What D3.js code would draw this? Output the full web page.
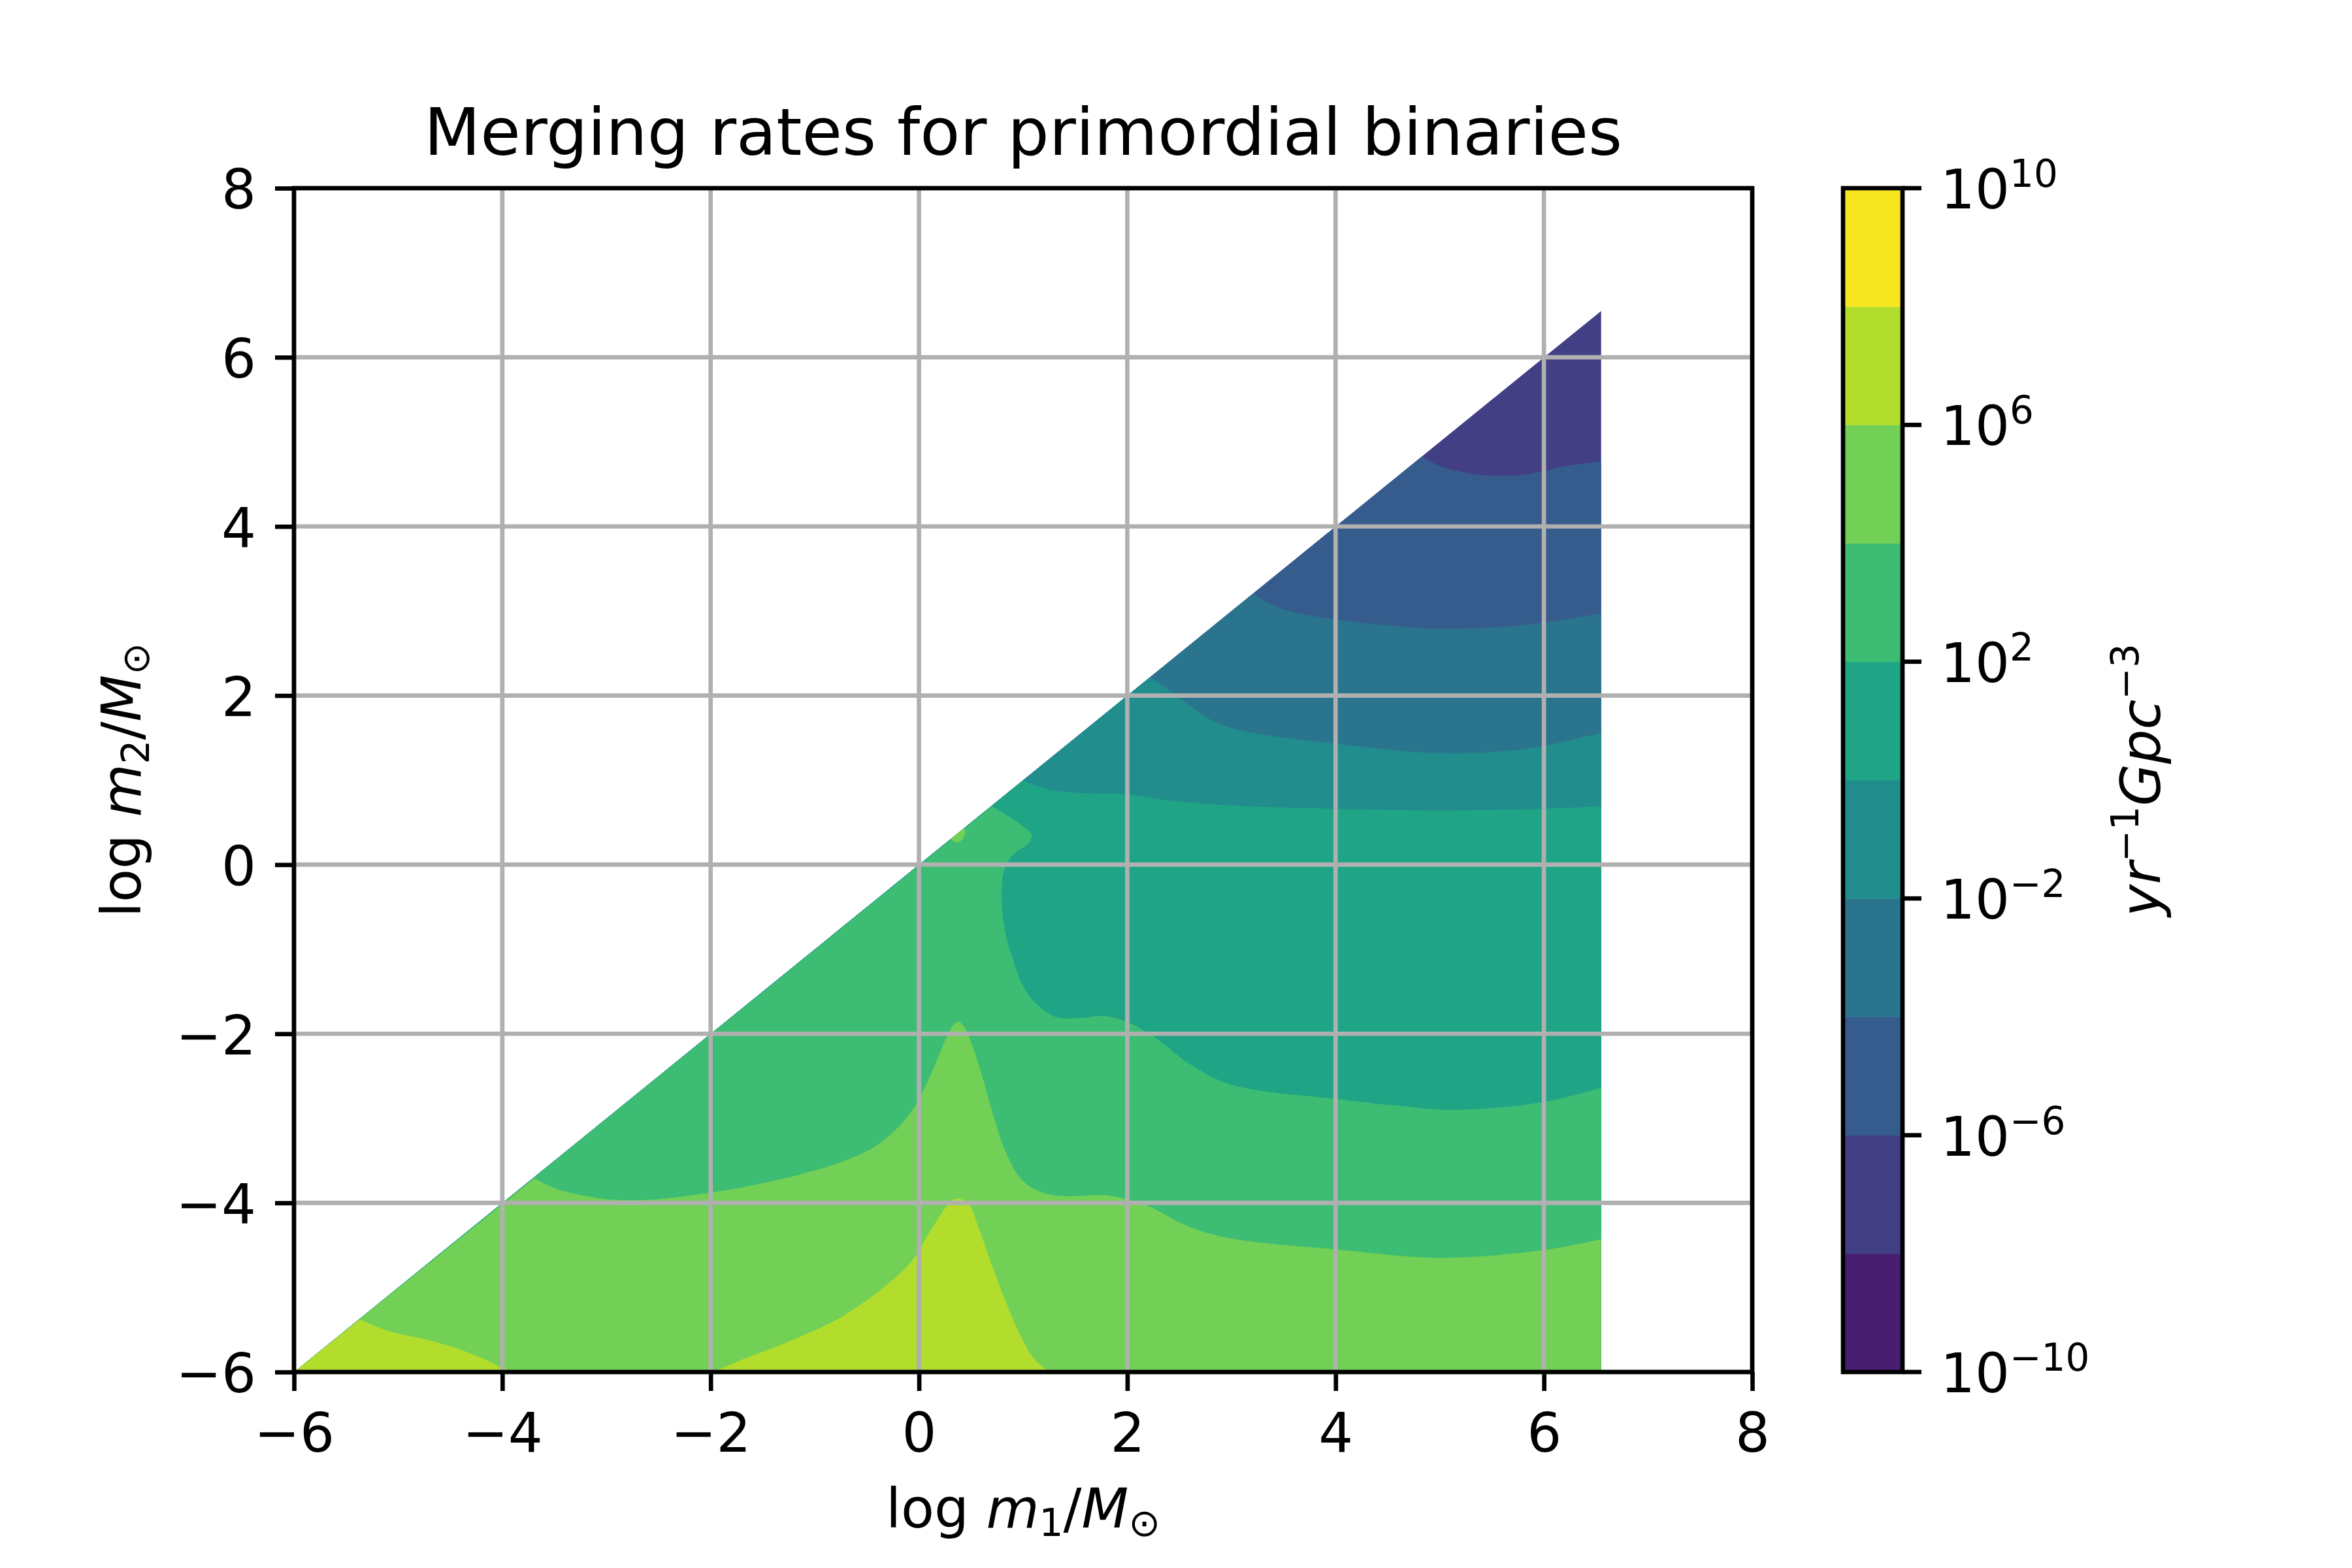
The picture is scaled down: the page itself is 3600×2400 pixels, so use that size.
<!DOCTYPE html>
<html>
<head>
<meta charset="utf-8">
<script src="https://cdn.jsdelivr.net/npm/d3@7"></script>
<style>
  body { margin: 0; background: #ffffff; }
  svg text { font-family: "DejaVu Sans", sans-serif; fill: #000; }
</style>
</head>
<body>
<div id="chart"></div>
<script>
// contour levels, log10 of rate in yr^-1 Gpc^-3
const levelExps = [-10, -8, -6, -4, -2, 0, 2, 4, 6, 8, 10];
const cbarTicks = [-10, -6, -2, 2, 6, 10];
const axisTicks = [-6, -4, -2, 0, 2, 4, 6, 8];

// edges of the mass grid (log m / Msun)
const massLo = -6;
const massHi = 6.55;

// iso-rate lines, [log m1, log m2]
const iso_m6 = [[4.83, 4.83], [4.99, 4.72], [5.19, 4.65], [5.39, 4.61], [5.59, 4.60],
  [5.79, 4.61], [5.99, 4.65], [6.19, 4.71], [6.55, 4.77]];
const iso_m4 = [[3.21, 3.21], [3.39, 3.07], [3.59, 2.99], [3.79, 2.94], [4.0, 2.90],
  [4.59, 2.82], [4.99, 2.79], [5.59, 2.81], [5.99, 2.86], [6.55, 2.97]];
const iso_m2 = [[2.22, 2.22], [2.39, 2.07], [2.59, 1.89], [2.79, 1.72], [2.99, 1.62],
  [3.39, 1.52], [4.0, 1.43], [4.59, 1.35], [4.99, 1.32], [5.59, 1.34], [5.99, 1.40], [6.55, 1.56]];
const iso_0 = [[1.0, 1.0], [1.21, 0.90], [1.53, 0.85], [2.0, 0.83], [2.39, 0.76],
  [2.99, 0.70], [4.0, 0.66], [4.99, 0.64], [5.99, 0.66], [6.55, 0.69]];
const iso_2 = [[0.70, 0.69], [0.80, 0.615], [0.96, 0.49], [1.067, 0.384], [1.083, 0.332],
  [1.046, 0.242], [0.92, 0.139], [0.847, 0.023], [0.805, -0.131], [0.795, -0.466],
  [0.837, -0.852], [0.9, -1.11], [1.0, -1.44], [1.13, -1.65], [1.32, -1.805],
  [1.52, -1.815], [1.78, -1.79], [2.0, -1.86], [2.26, -2.04], [2.59, -2.35],
  [2.99, -2.60], [4.0, -2.77], [4.59, -2.85], [5.11, -2.90], [5.99, -2.81], [6.55, -2.64]];
const iso_4 = [[-3.69, -3.71], [-3.49, -3.83], [-3.09, -3.94], [-2.69, -3.97], [-2.0, -3.88],
  [-1.29, -3.71], [-0.69, -3.49], [-0.37, -3.29], [-0.09, -2.95], [0.07, -2.60],
  [0.23, -2.14], [0.30, -1.95], [0.375, -1.856], [0.44, -1.93], [0.512, -2.14],
  [0.59, -2.43], [0.71, -2.95], [0.83, -3.39], [0.99, -3.73], [1.19, -3.88],
  [1.39, -3.92], [1.79, -3.91], [2.0, -3.96], [2.19, -4.03], [2.59, -4.28],
  [2.99, -4.42], [4.0, -4.55], [4.99, -4.65], [5.99, -4.56], [6.55, -4.43]];
const iso_4_spot = [[0.30, 0.33], [0.34, 0.27], [0.39, 0.27], [0.43, 0.33], [0.44, 0.42]];
const iso_6_corner = [[-5.37, -5.38], [-5.08, -5.52], [-4.69, -5.63], [-4.37, -5.75],
  [-4.17, -5.85], [-4.0, -5.95], [-3.88, -6.0]];
const iso_6_peak = [[-1.97, -6.0], [-1.69, -5.85], [-1.29, -5.66], [-0.69, -5.31],
  [-0.09, -4.72], [0.11, -4.33], [0.31, -3.98], [0.37, -3.95], [0.47, -4.00],
  [0.58, -4.32], [0.71, -4.77], [0.83, -5.16], [0.99, -5.61], [1.11, -5.85], [1.25, -6.0]];

const W = 3600, H = 2400;
const plot = { left: 450, right: 2682, top: 288, bottom: 2100 };
const cbar = { left: 2821, right: 2912 };
const lw = 6.67;       // 0.8pt at 600 dpi
const tickLen = 29;
const fs = 83.3;

const svg = d3.select("#chart").append("svg")
  .attr("width", W).attr("height", H)
  .attr("viewBox", `0 0 ${W} ${H}`);
svg.append("rect").attr("width", W).attr("height", H).attr("fill", "#fff");

const x = d3.scaleLinear().domain([-6, 8]).range([plot.left, plot.right]);
const y = d3.scaleLinear().domain([-6, 8]).range([plot.bottom, plot.top]);

// band colour = viridis at the (linear) midpoint of each band, normed on the level range
const color = d3.scaleSequential(d3.interpolateViridis)
  .domain([levelExps[0], levelExps[levelExps.length - 1]]);
function bandColor(k) {
  return color(Math.log10((Math.pow(10, k) + Math.pow(10, k + 2)) / 2));
}

const tails = {
  edge: [[massHi, massLo], [massLo, massLo]],
  corner: [[massLo, massLo]],
  none: []
};

const layers = [
  { exp: -6, line: iso_m6, tail: "edge" },
  { exp: -4, line: iso_m4, tail: "edge" },
  { exp: -2, line: iso_m2, tail: "edge" },
  { exp: 0, line: iso_0, tail: "edge" },
  { exp: 2, line: iso_2, tail: "edge" },
  { exp: 4, line: iso_4, tail: "edge" },
  { exp: 4, line: iso_4_spot, closed: true },
  { exp: 6, line: iso_6_corner, tail: "corner" },
  { exp: 6, line: iso_6_peak, tail: "none" }
];

const smooth = d3.line().x(d => x(d[0])).y(d => y(d[1]))
  .curve(d3.curveCatmullRom.alpha(0.5));
const smoothClosed = d3.line().x(d => x(d[0])).y(d => y(d[1]))
  .curve(d3.curveCatmullRomClosed.alpha(0.5));

function regionPath(l) {
  if (l.closed) return smoothClosed(l.line);
  const tail = tails[l.tail].map(p => "L" + x(p[0]) + "," + y(p[1])).join("");
  return smooth(l.line) + tail + "Z";
}

const triangle = [[massLo, massLo], [massHi, massHi], [massHi, massLo]];
const triPath = "M" + triangle.map(p => x(p[0]) + "," + y(p[1])).join("L") + "Z";

svg.append("clipPath").attr("id", "tri-clip")
  .append("path").attr("d", triPath);

const field = svg.append("g").attr("clip-path", "url(#tri-clip)");
field.append("path").attr("d", triPath).attr("fill", bandColor(-8));
field.selectAll("path.band")
  .data(layers)
  .enter()
  .append("path")
  .attr("class", "band")
  .attr("d", regionPath)
  .attr("fill", d => bandColor(d.exp));

// grid
const grid = svg.append("g")
  .attr("stroke", "#b0b0b0").attr("stroke-width", lw).attr("fill", "none");
grid.selectAll("line.gx").data(axisTicks).enter().append("line")
  .attr("x1", d => x(d)).attr("x2", d => x(d))
  .attr("y1", plot.top).attr("y2", plot.bottom);
grid.selectAll("line.gy").data(axisTicks).enter().append("line")
  .attr("y1", d => y(d)).attr("y2", d => y(d))
  .attr("x1", plot.left).attr("x2", plot.right);

// axes
const fmt = d3.format("d");
const xAxis = svg.append("g")
  .attr("transform", `translate(0,${plot.bottom})`)
  .call(d3.axisBottom(x).tickValues(axisTicks).tickSize(tickLen).tickPadding(tickLen).tickFormat(fmt));
const yAxis = svg.append("g")
  .attr("transform", `translate(${plot.left},0)`)
  .call(d3.axisLeft(y).tickValues(axisTicks).tickSize(tickLen).tickPadding(tickLen).tickFormat(fmt));

[xAxis, yAxis].forEach(g => {
  g.select(".domain").remove();
  g.selectAll(".tick line").attr("stroke", "#000").attr("stroke-width", lw);
  g.selectAll(".tick text")
    .attr("font-size", fs)
    .attr("font-family", "DejaVu Sans")
    .attr("fill", "#000");
});
xAxis.selectAll(".tick text").attr("dy", "0.77em");
yAxis.selectAll(".tick text").attr("dy", "0.37em");

svg.append("rect")
  .attr("x", plot.left).attr("y", plot.top)
  .attr("width", plot.right - plot.left).attr("height", plot.bottom - plot.top)
  .attr("fill", "none").attr("stroke", "#000").attr("stroke-width", lw);

// title and axis labels
svg.append("text")
  .attr("x", (plot.left + plot.right) / 2).attr("y", 237)
  .attr("text-anchor", "middle").attr("font-size", 100)
  .text("Merging rates for primordial binaries");

function massLabel(g, idx) {
  g.append("tspan").text("log ");
  g.append("tspan").attr("font-style", "italic").text("m");
  g.append("tspan").attr("font-size", 58).attr("dy", 13).text(idx);
  g.append("tspan").attr("dy", -13).text("/");
  g.append("tspan").attr("font-style", "italic").text("M");
  g.append("tspan").attr("font-size", 58).attr("dy", 13).text("\u2299");
}

const xLabel = svg.append("text")
  .attr("x", (plot.left + plot.right) / 2).attr("y", 2338)
  .attr("text-anchor", "middle").attr("font-size", fs);
massLabel(xLabel, "1");

const yLabel = svg.append("text")
  .attr("transform", `translate(215,${(plot.top + plot.bottom) / 2}) rotate(-90)`)
  .attr("text-anchor", "middle").attr("font-size", fs);
massLabel(yLabel, "2");

// colorbar
const cb = d3.scaleLinear().domain([levelExps[0], levelExps[levelExps.length - 1]])
  .range([plot.bottom, plot.top]);
const cbBands = levelExps.slice(0, -1);
svg.append("g").selectAll("rect")
  .data(cbBands)
  .enter()
  .append("rect")
  .attr("x", cbar.left)
  .attr("width", cbar.right - cbar.left)
  .attr("y", d => cb(d + 2))
  .attr("height", d => cb(d) - cb(d + 2) + 0.5)
  .attr("fill", d => bandColor(d));

svg.append("rect")
  .attr("x", cbar.left).attr("y", plot.top)
  .attr("width", cbar.right - cbar.left).attr("height", plot.bottom - plot.top)
  .attr("fill", "none").attr("stroke", "#000").attr("stroke-width", lw);

const cbTicks = svg.append("g").selectAll("g")
  .data(cbarTicks)
  .enter()
  .append("g")
  .attr("transform", d => `translate(${cbar.right},${cb(d)})`);
cbTicks.append("line")
  .attr("x1", 0).attr("x2", tickLen)
  .attr("stroke", "#000").attr("stroke-width", lw);
const cbText = cbTicks.append("text")
  .attr("x", 2 * tickLen)
  .attr("y", 31)
  .attr("font-size", fs);
cbText.append("tspan").text("10");
cbText.append("tspan")
  .attr("font-size", 58).attr("dy", -33)
  .text(d => fmt(d));

const cbLabel = svg.append("text")
  .attr("transform", `translate(3306,${(plot.top + plot.bottom) / 2}) rotate(-90)`)
  .attr("text-anchor", "middle").attr("font-size", fs);
cbLabel.append("tspan").attr("font-style", "italic").text("yr");
cbLabel.append("tspan").attr("font-size", 58).attr("dy", -33).text("\u22121");
cbLabel.append("tspan").attr("font-style", "italic").attr("dy", 33).text("Gpc");
cbLabel.append("tspan").attr("font-size", 58).attr("dy", -33).text("\u22123");
</script>
</body>
</html>
